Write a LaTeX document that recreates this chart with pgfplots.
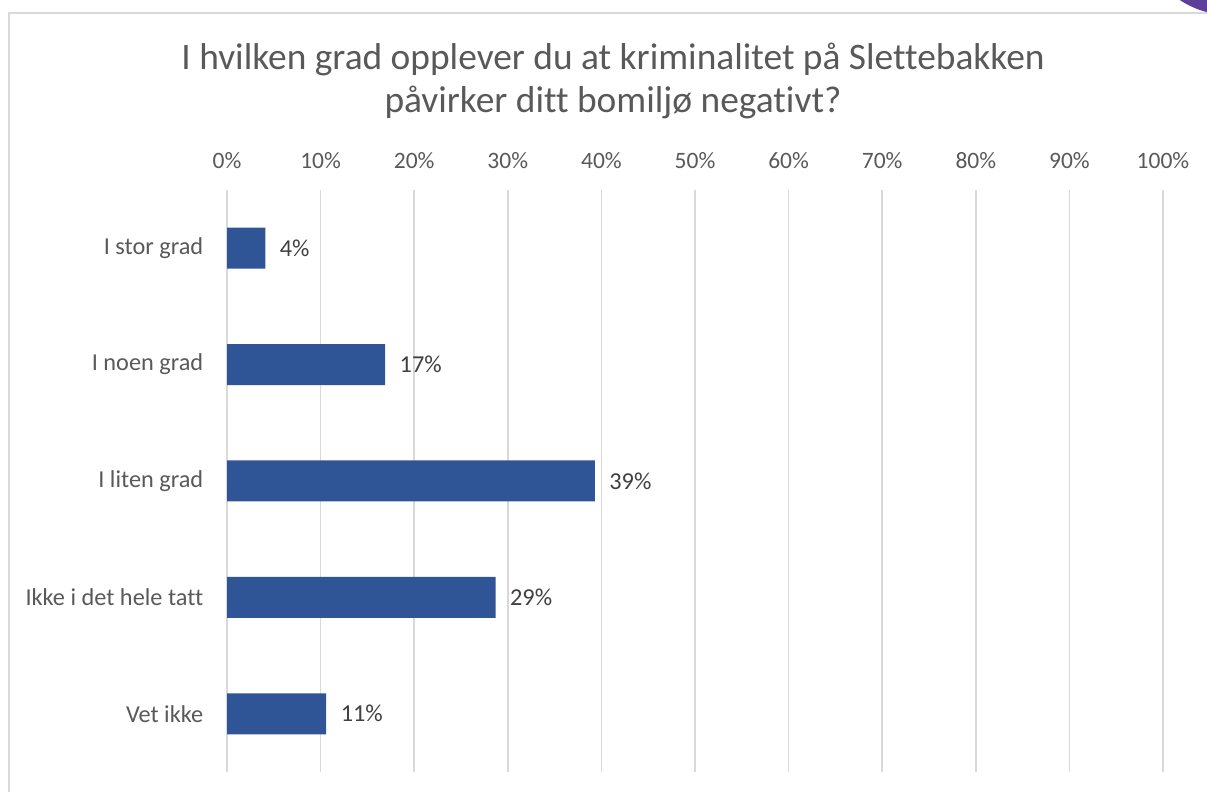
\documentclass[border=0pt]{standalone}
\usepackage{pgfplots}
\pgfplotsset{compat=1.18}
\usepackage{pgfplotstable}
\usepackage{fontspec}
\setmainfont{Carlito}[Ligatures=NoCommon]
\definecolor{barc}{HTML}{2F5597}
\definecolor{txt}{HTML}{595959}
\definecolor{lbl}{HTML}{404040}
\definecolor{gridc}{HTML}{D9D9D9}
\definecolor{purp}{HTML}{5B3F98}
\pgfplotstableread[col sep=comma]{
pos,val,lab
4,4.1,4\%
3,16.9,17\%
2,39.3,39\%
1,28.7,29\%
0,10.6,11\%
}\data
\begin{document}
\begin{tikzpicture}
\path[use as bounding box] (0pt,0pt) rectangle (1207pt,792pt);
\begin{scope}
\clip (0pt,0pt) rectangle (1207pt,792pt);
\fill[purp] (1229.5pt,867pt) circle (90pt);
\end{scope}
\draw[gridc, line width=1.5pt] (9pt,0pt) -- (9pt,779pt) -- (1207pt,779pt);
\node[txt, align=center, font=\fontsize{37.4}{43}\selectfont, anchor=base] at (613pt,679pt) {I hvilken grad opplever du at kriminalitet på Slettebakken\\påvirker ditt bomiljø negativt?};
\begin{axis}[
  at={(227pt,20pt)}, anchor=south west,
  width=936pt, height=582pt, scale only axis,
  xmin=0, xmax=100, ymin=-0.5, ymax=4.5,
  axis line style={draw=none},
  xtick={0,10,...,100},
  xticklabel={\pgfmathprintnumber{\tick}\%},
  xticklabel pos=top,
  ytick={0,1,2,3,4},
  yticklabels={Vet ikke, Ikke i det hele tatt, I liten grad, I noen grad, I stor grad},
  tick style={draw=none},
  xmajorgrids, ymajorgrids=false,
  major grid style={draw=gridc, line width=1.5pt},
  xticklabel style={txt, font=\fontsize{23.5}{28}\selectfont, yshift=18pt},
  yticklabel style={txt, font=\fontsize{24.3}{29}\selectfont, xshift=-16pt},
  xbar, bar width=41pt,
  nodes near coords,
  point meta=explicit symbolic,
  every node near coord/.append style={anchor=west, lbl, font=\fontsize{24.3}{29}\selectfont, xshift=11pt},
  /pgf/number format/assume math mode=true,
]
\addplot[fill=barc, draw=none] table[x=val, y=pos, meta=lab] {\data};
\end{axis}
\end{tikzpicture}
\end{document}
